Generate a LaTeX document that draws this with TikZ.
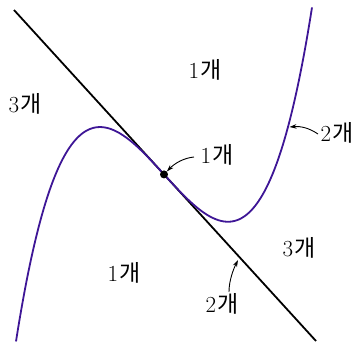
\documentclass[tikz,border=0pt]{standalone}
\usepackage{fontspec}
\newfontfamily\krfont{Noto Sans CJK KR}
\usetikzlibrary{arrows.meta}
\definecolor{curvecol}{RGB}{62,22,150}
\tikzset{
  lbl/.style={inner sep=0pt, font=\fontsize{23}{26}\selectfont},
  tangent/.style={black, line width=1.8pt},
  cubic/.style={curvecol, line width=1.8pt},
  pointer/.style={black, line width=0.9pt, -{Stealth[length=7pt,width=4.5pt]}},
}
\newcommand\gae[1]{#1\hspace{1pt}{\krfont 개}}
\begin{document}
\begin{tikzpicture}[x=1pt,y=-1pt]
\useasboundingbox (0,0) rectangle (358,343);
% tangent line
\coordinate (L1) at (14,10);
\coordinate (L2) at (316,341);
\draw[tangent] (L1) -- (L2);
% curve
\draw[cubic] plot[domain=-148:148, samples=150, smooth, variable=\u]
  ({164+\u},{174.4 - (-1.096*\u + 83.6*(\u/100)*(\u/100)*(\u/100) + 8.196*(\u/100)*(\u/100)*(\u/100)*(\u/100)*(\u/100))});
% tangent point
\node[circle, fill=black, inner sep=0pt, minimum size=8pt] (dot) at (164,174.4) {};
% labels
\node[lbl] (top1) at (205,70) {\gae{1}};
\node[lbl] (left3) at (25,104) {\gae{3}};
\node[lbl] (mid1) at (217,155) {\gae{1}};
\node[lbl] (right2) at (337,133) {\gae{2}};
\node[lbl] (right3) at (299,248) {\gae{3}};
\node[lbl] (bot2) at (222,304) {\gae{2}};
\node[lbl] (low1) at (124,273) {\gae{1}};
% pointer targets
\coordinate (c2) at (289.5,127);
\coordinate (l2) at (238,260);
% pointers
\draw[pointer] (194,157) .. controls (184,158) and (175,163) .. (dot);
\draw[pointer] (318,134) .. controls (309,128) and (301,126) .. (c2);
\draw[pointer] (229,292) .. controls (229,281) and (233,270) .. (l2);
\end{tikzpicture}
\end{document}
